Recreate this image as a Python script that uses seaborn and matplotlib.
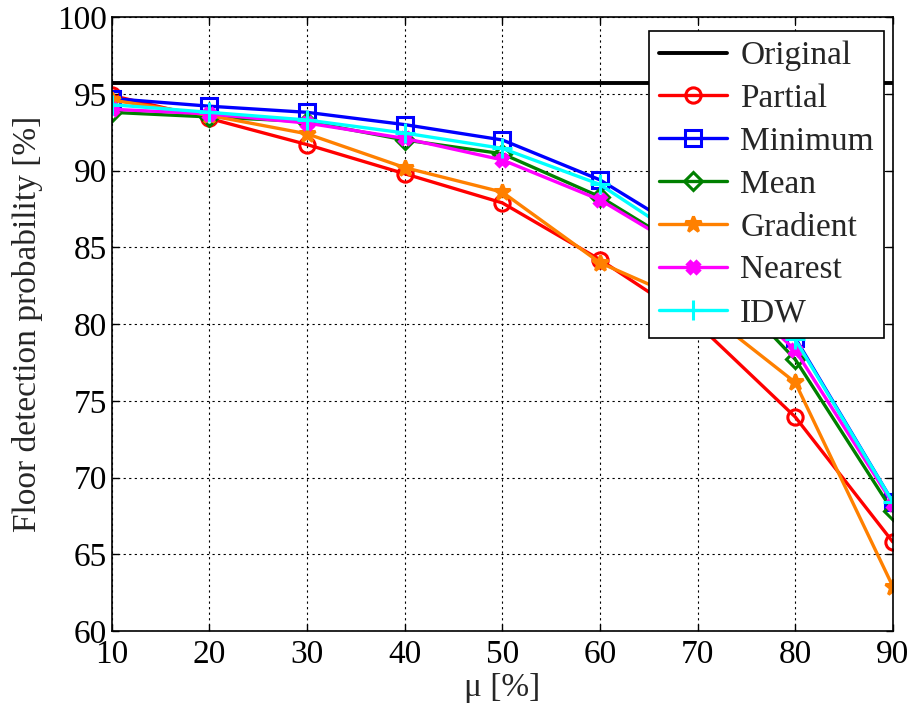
import matplotlib
matplotlib.use("Agg")
import matplotlib.pyplot as plt
import seaborn as sns
import pandas as pd

mu = [10, 20, 30, 40, 50, 60, 70, 80, 90]
original = [95.7] * 9
partial = [94.9, 93.4, 91.7, 89.8, 87.9, 84.2, 80.0, 73.95, 65.8]
minimum = [94.7, 94.2, 93.8, 93.0, 92.0, 89.4, 85.5, 79.1, 68.4]
mean = [93.8, 93.5, 93.2, 92.0, 91.1, 88.3, 84.4, 77.7, 67.8]
gradient = [94.6, 93.6, 92.4, 90.2, 88.6, 84.0, 81.2, 76.2, 62.9]
nearest = [94.0, 93.7, 93.1, 92.1, 90.7, 88.1, 84.3, 78.3, 68.3]
idw = [94.3, 93.8, 93.3, 92.45, 91.45, 89.1, 84.9, 79.0, 68.4]

names = ["Original", "Partial", "Minimum", "Mean", "Gradient", "Nearest", "IDW"]
series = [original, partial, minimum, mean, gradient, nearest, idw]
colors = ["black", "#ff0000", "#0000ff", "#008000", "#ff8000", "#ff00ff", "#00ffff"]
markers = [None, "o", "s", "D", "*", "X", "+"]
msizes = [0, 11, 11, 9, 12, 8, 14]

sns.set_theme(style="white")
plt.rcParams["font.family"] = ["Liberation Serif", "DejaVu Serif"]
plt.rcParams["mathtext.fontset"] = "stix"

fig = plt.figure(figsize=(9.12, 7.16), dpi=100)
ax = fig.add_axes([0.1225, 0.1187, 0.979 - 0.1225, 0.976 - 0.1187])

for name, vals, c, m, ms in zip(names, series, colors, markers, msizes):
    df = pd.DataFrame({"mu": mu, "val": vals})
    if m is None:
        sns.lineplot(data=df, x="mu", y="val", color=c, lw=2.8, ax=ax, label=name)
    else:
        filled = m in ("*", "X")
        sns.lineplot(data=df, x="mu", y="val", color=c, lw=2.4, ax=ax, label=name,
                     marker=m, markersize=ms,
                     markerfacecolor=(c if filled else "none"),
                     markeredgecolor=c, markeredgewidth=2.2)

ax.set_xlim(10, 90)
ax.set_ylim(60, 100)
ax.set_xticks(list(range(10, 91, 10)))
ax.set_yticks(list(range(60, 101, 5)))
ax.tick_params(labelsize=24, direction="in", length=5, width=1, colors="black",
               bottom=True, left=True, top=True, right=True)
ax.tick_params(axis="x", pad=6)
ax.grid(True, color="black", linestyle=(0, (2, 3)), linewidth=0.8)
for s in ax.spines.values():
    s.set_color("black")
    s.set_linewidth(1.2)
ax.set_xlabel("μ [%]", fontsize=24, labelpad=2)
ax.set_ylabel("Floor detection probability [%]", fontsize=24, labelpad=10)

leg = ax.legend(loc="upper right", bbox_to_anchor=(0.9885, 0.978), fontsize=24,
                frameon=True, fancybox=False, edgecolor="black", framealpha=1,
                handlelength=2.05, borderaxespad=0.0, labelspacing=0.37,
                borderpad=0.3, handletextpad=0.4)
leg.get_frame().set_linewidth(1.2)

fig.savefig("out.png", dpi=100)
